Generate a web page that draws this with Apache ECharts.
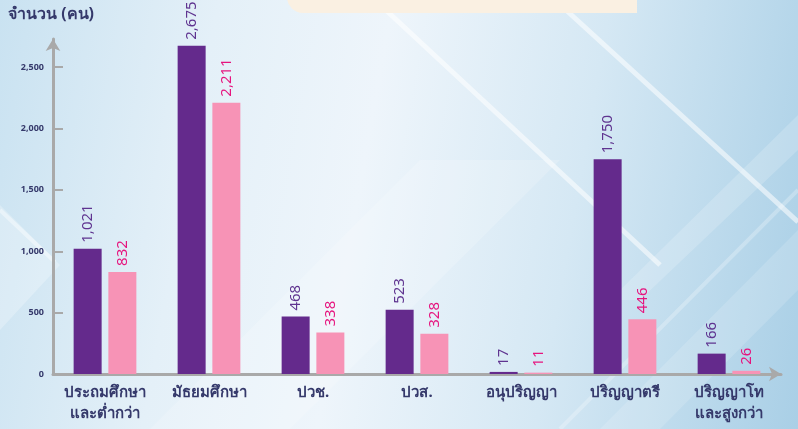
<!DOCTYPE html>
<html>
<head>
<meta charset="utf-8">
<script src="https://cdn.jsdelivr.net/npm/echarts@6/dist/echarts.min.js"></script>
<style>
  html, body { margin: 0; padding: 0; }
  #chart {
    width: 798px;
    height: 429px;
    background: linear-gradient(100deg, #c9e2f1 0%, #e4f0f8 25%, #eef5fb 45%, #d5e8f4 70%, #a9cfe6 100%);
  }
</style>
</head>
<body>
<div id="chart"></div>
<script>
  const categories = [
    "ประถมศึกษา\nและต่ำกว่า",
    "มัธยมศึกษา",
    "ปวช.",
    "ปวส.",
    "อนุปริญญา",
    "ปริญญาตรี",
    "ปริญญาโท\nและสูงกว่า",
  ];
  const purpleValues = [1021, 2675, 468, 523, 17, 1750, 166];
  const pinkValues = [832, 2211, 338, 328, 11, 446, 26];
  const yTicks = [0, 500, 1000, 1500, 2000, 2500];

  const navy = "#35396b";
  const font = "Tahoma, 'Noto Sans', 'DejaVu Sans', sans-serif";

  const chart = echarts.init(document.getElementById("chart"));

  // background decoration: light diagonal stripes and the beige tab at top
  const stripe = (x1, y1, x2, y2, w, a) => ({
    type: "line",
    z: 0,
    silent: true,
    shape: { x1, y1, x2, y2 },
    style: { stroke: "rgba(255,255,255," + a + ")", lineWidth: w },
  });
  const band = (points, a) => ({
    type: "polygon",
    z: 0,
    silent: true,
    shape: { points },
    style: { fill: "rgba(255,255,255," + a + ")" },
  });

  const valueLabel = (color) => ({
    show: true,
    position: "top",
    rotate: 90,
    align: "left",
    verticalAlign: "middle",
    distance: 6,
    fontSize: 15,
    color,
    formatter: (p) => p.value.toLocaleString("en-US"),
  });

  chart.setOption({
    backgroundColor: "transparent",
    textStyle: { fontFamily: font },
    graphic: [
      band([[0, 205], [60, 265], [0, 330]], 0.25),
      band([[150, 429], [420, 160], [560, 160], [290, 429]], 0.18),
      band([[600, 429], [798, 230], [798, 290], [660, 429]], 0.15),
      band([[610, 300], [798, 115], [798, 150], [640, 300]], 0.18),
      stripe(375, 0, 660, 265, 5, 0.55),
      stripe(555, 0, 798, 222, 5, 0.55),
      stripe(560, 429, 798, 190, 4, 0.25),
      stripe(0, 210, 55, 262, 4, 0.4),
      {
        type: "rect",
        z: 0,
        silent: true,
        shape: { x: 287, y: -20, width: 350, height: 33, r: [0, 0, 0, 16] },
        style: { fill: "#faf0e2" },
      },
      {
        type: "text",
        z: 5,
        left: 8,
        top: 6,
        style: {
          text: "จำนวน (คน)",
          font: "bold 16px " + font,
          fill: navy,
        },
      },
    ],
    grid: { left: 53, right: 17, top: 39, bottom: 55 },
    xAxis: {
      type: "category",
      data: categories,
      axisLine: {
        lineStyle: { color: "#a9a9a9", width: 3 },
        symbol: ["none", "arrow"],
        symbolSize: [11, 12],
      },
      axisTick: { show: false },
      axisLabel: {
        color: navy,
        fontWeight: "bold",
        fontSize: 15,
        lineHeight: 21,
        margin: 8,
        interval: 0,
      },
    },
    yAxis: {
      type: "value",
      min: 0,
      max: 2730,
      splitLine: { show: false },
      axisLine: {
        show: true,
        lineStyle: { color: "#a9a9a9", width: 3 },
        symbol: ["none", "arrow"],
        symbolSize: [11, 12],
      },
      axisTick: {
        show: true,
        inside: true,
        length: 10,
        lineStyle: { color: "#a9a9a9", width: 2 },
        customValues: yTicks,
      },
      axisLabel: {
        color: navy,
        fontSize: 9,
        fontWeight: "bold",
        margin: 9,
        customValues: yTicks,
        formatter: (v) => v.toLocaleString("en-US"),
      },
    },
    series: [
      {
        name: "purple",
        type: "bar",
        data: purpleValues,
        barWidth: 28,
        barGap: "24%",
        itemStyle: { color: "#642a8c" },
        label: valueLabel("#5f3490"),
      },
      {
        name: "pink",
        type: "bar",
        data: pinkValues,
        barWidth: 28,
        itemStyle: { color: "#f793b6" },
        label: valueLabel("#e6147e"),
      },
    ],
  });
</script>
</body>
</html>
